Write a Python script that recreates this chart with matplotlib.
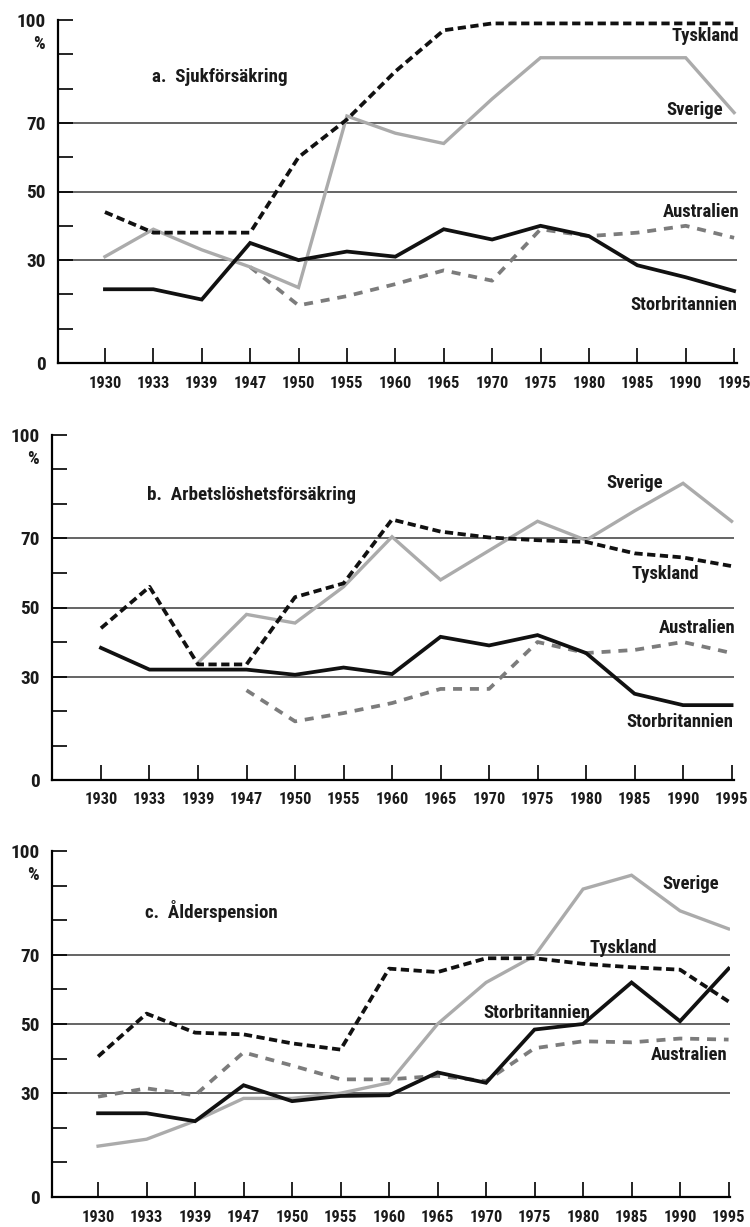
import os
import numpy as np
import matplotlib
matplotlib.use("Agg")
import matplotlib.pyplot as plt
from matplotlib import font_manager
from matplotlib.ticker import MultipleLocator, FixedLocator

years = ["1930", "1933", "1939", "1947", "1950", "1955", "1960",
         "1965", "1970", "1975", "1980", "1985", "1990", "1995"]
nan = np.nan

# a. Sjukförsäkring
a_tyskland = [44, 38, 38, 38, 60, 71, 85, 97, 99, 99, 99, 99, 99, 99]
a_sverige = [31, 39, 33, 28, 22, 72, 67, 64, 77, 89, 89, 89, 89, 73]
a_storbrit = [21.5, 21.5, 18.5, 35, 30, 32.5, 31, 39, 36, 40, 37, 28.5, 25, 21]
a_australien = [nan, nan, nan, 28, 16.8, 19.5, 23, 27, 24, 39, 37, 38, 40, 36.5]

# b. Arbetslöshetsförsäkring
b_tyskland = [44, 56, 33.5, 33.5, 53, 57, 75.5, 72, 70.3, 69.5, 69, 65.7, 64.5, 62]
b_sverige = [nan, nan, 34, 48, 45.5, 56, 70.5, 58, 66.5, 75, 69.5, 78, 86, 75]
b_storbrit = [38.3, 32, 32, 32, 30.5, 32.6, 30.7, 41.5, 39, 42, 36.8, 25, 21.7, 21.7]
b_australien = [nan, nan, nan, 26, 17, 19.4, 22.3, 26.4, 26.4, 40, 36.8, 37.7, 40, 36.8]

# c. Ålderspension
c_tyskland = [40.6, 53, 47.5, 47, 44.4, 42.6, 66, 65, 69, 69, 67.4, 66.4, 65.7, 56.5]
c_sverige = [14.7, 16.7, 22, 28.5, 28.5, 30, 33, 50, 62, 69.7, 89, 93, 82.7, 77.5]
c_storbrit = [24.2, 24.2, 21.9, 32.3, 27.7, 29.2, 29.4, 36, 33, 48.4, 50, 62, 50.8, 66]
c_australien = [29, 31.4, 29.4, 41.8, 38, 34, 34, 35, 33.5, 43, 45, 44.7, 45.8, 45.5]

panels = [
    {"title": "a.  Sjukförsäkring",
     "series": [a_australien, a_sverige, a_storbrit, a_tyskland],
     "rect": (58, 20, 737, 363), "xlim": (-0.97, 13.06),
     "labels": [("Tyskland", 13.1, 95.3), ("Sverige", 12.77, 73.8),
                ("Australien", 13.1, 44), ("Storbritannien", 13.06, 17)],
     "title_xy": (0.97, 83.4)},
    {"title": "b.  Arbetslöshetsförsäkring",
     "series": [b_australien, b_sverige, b_storbrit, b_tyskland],
     "rect": (52, 435, 734, 780), "xlim": (-1.01, 13.05),
     "labels": [("Sverige", 11.59, 86), ("Tyskland", 12.33, 59.7),
                ("Australien", 13.07, 44), ("Storbritannien", 13.03, 16.8)],
     "title_xy": (0.95, 82.6)},
    {"title": "c.  Ålderspension",
     "series": [c_australien, c_sverige, c_storbrit, c_tyskland],
     "rect": (52, 851, 730, 1197), "xlim": (-0.95, 13.03),
     "labels": [("Sverige", 12.8, 90.5), ("Tyskland", 11.53, 72),
                ("Storbritannien", 10.14, 53.3), ("Australien", 12.97, 41)],
     "title_xy": (0.97, 82.7)},
]

# australien, sverige, storbritannien, tyskland
styles = [
    dict(color="#7c7c7c", lw=2.7, linestyle=(0, (2.4, 2.1)), solid_capstyle="butt"),
    dict(color="#ababab", lw=2.4, linestyle="-", solid_joinstyle="miter"),
    dict(color="#111111", lw=2.7, linestyle="-", solid_joinstyle="miter"),
    dict(color="#111111", lw=2.7, linestyle=(0, (2.2, 1.2))),
]


def pick_condensed_font():
    # the scan uses a heavy condensed grotesque; take the closest installed one
    prefs = ["notosans-extracondensedblack", "notosans-extracondensedextrabold",
             "notosans-extracondensedbold", "notosans-condensedblack",
             "notosans-condensedextrabold", "notosans-condensedbold",
             "robotocondensed-black", "robotocondensed-extrabold",
             "robotocondensed-bold", "liberationsansnarrow-bold",
             "dejavusanscondensed-bold", "opensans-condbold",
             "notosans-semicondensedbold"]
    files = {}
    for f in font_manager.fontManager.ttflist:
        fn = os.path.splitext(os.path.basename(f.fname))[0].lower()
        files.setdefault(fn, f.fname)
    for p in prefs:
        if p in files:
            return font_manager.FontProperties(fname=files[p])
    return font_manager.FontProperties(family="DejaVu Sans", weight="bold")


W, H = 750, 1227
fig = plt.figure(figsize=(W / 100, H / 100), dpi=100)
renderer = fig.canvas.get_renderer()
base_fp = pick_condensed_font()


def fitted(text, target_px):
    fp = base_fp.copy()
    fp.set_size(12)
    t = fig.text(0, 0, text, fontproperties=fp)
    w = t.get_window_extent(renderer).width
    t.remove()
    fp.set_size(12 * target_px / w)
    return fp


fp_year = fitted("1930", 33)
fp_ylab = fitted("100", 29)
fp_name = fitted("Storbritannien", 107)
fp_title = fitted("a.  Sjukförsäkring", 136)
fp_pct = fp_ylab.copy()
fp_pct.set_size(fp_ylab.get_size() * 0.95)

x = np.arange(len(years))
ink = "#1a1a1a"

for p in panels:
    l, t, r, b = p["rect"]
    ax = fig.add_axes([l / W, (H - b) / H, (r - l) / W, (b - t) / H])
    ax.set_xlim(*p["xlim"])
    ax.set_ylim(0, 100)

    for yv in (30, 50, 70):
        ax.axhline(yv, color="#3a3a3a", lw=1.1, zorder=1)

    for vals, st in zip(p["series"], styles):
        ax.plot(x, vals, zorder=3, **st)

    for name, tx, ty in p["labels"]:
        ax.text(tx, ty, name, ha="right", va="center", fontproperties=fp_name,
                color=ink)
    ax.text(p["title_xy"][0], p["title_xy"][1], p["title"], ha="left",
            va="center", fontproperties=fp_title, color=ink)

    ax.spines["top"].set_visible(False)
    ax.spines["right"].set_visible(False)
    ax.spines["left"].set_linewidth(1.6)
    ax.spines["bottom"].set_linewidth(1.6)

    ax.yaxis.set_major_locator(FixedLocator([0, 30, 50, 70, 100]))
    ax.yaxis.set_minor_locator(MultipleLocator(10))
    ax.set_xticks(x)
    ax.set_xticklabels(years)
    ax.tick_params(axis="y", which="both", direction="in", length=11,
                   width=1.2, pad=9)
    ax.tick_params(axis="x", direction="in", length=11, width=1.2, pad=9)
    for lab in ax.get_xticklabels():
        lab.set_fontproperties(fp_year)
        lab.set_color(ink)
    for lab in ax.get_yticklabels():
        lab.set_fontproperties(fp_ylab)
        lab.set_color(ink)
    ax.annotate("%", xy=(0, 93), xycoords=ax.get_yaxis_transform(),
                xytext=(-13, 0), textcoords="offset pixels", ha="right",
                va="center", fontproperties=fp_pct, color=ink)

fig.savefig("out.png", dpi=100)
